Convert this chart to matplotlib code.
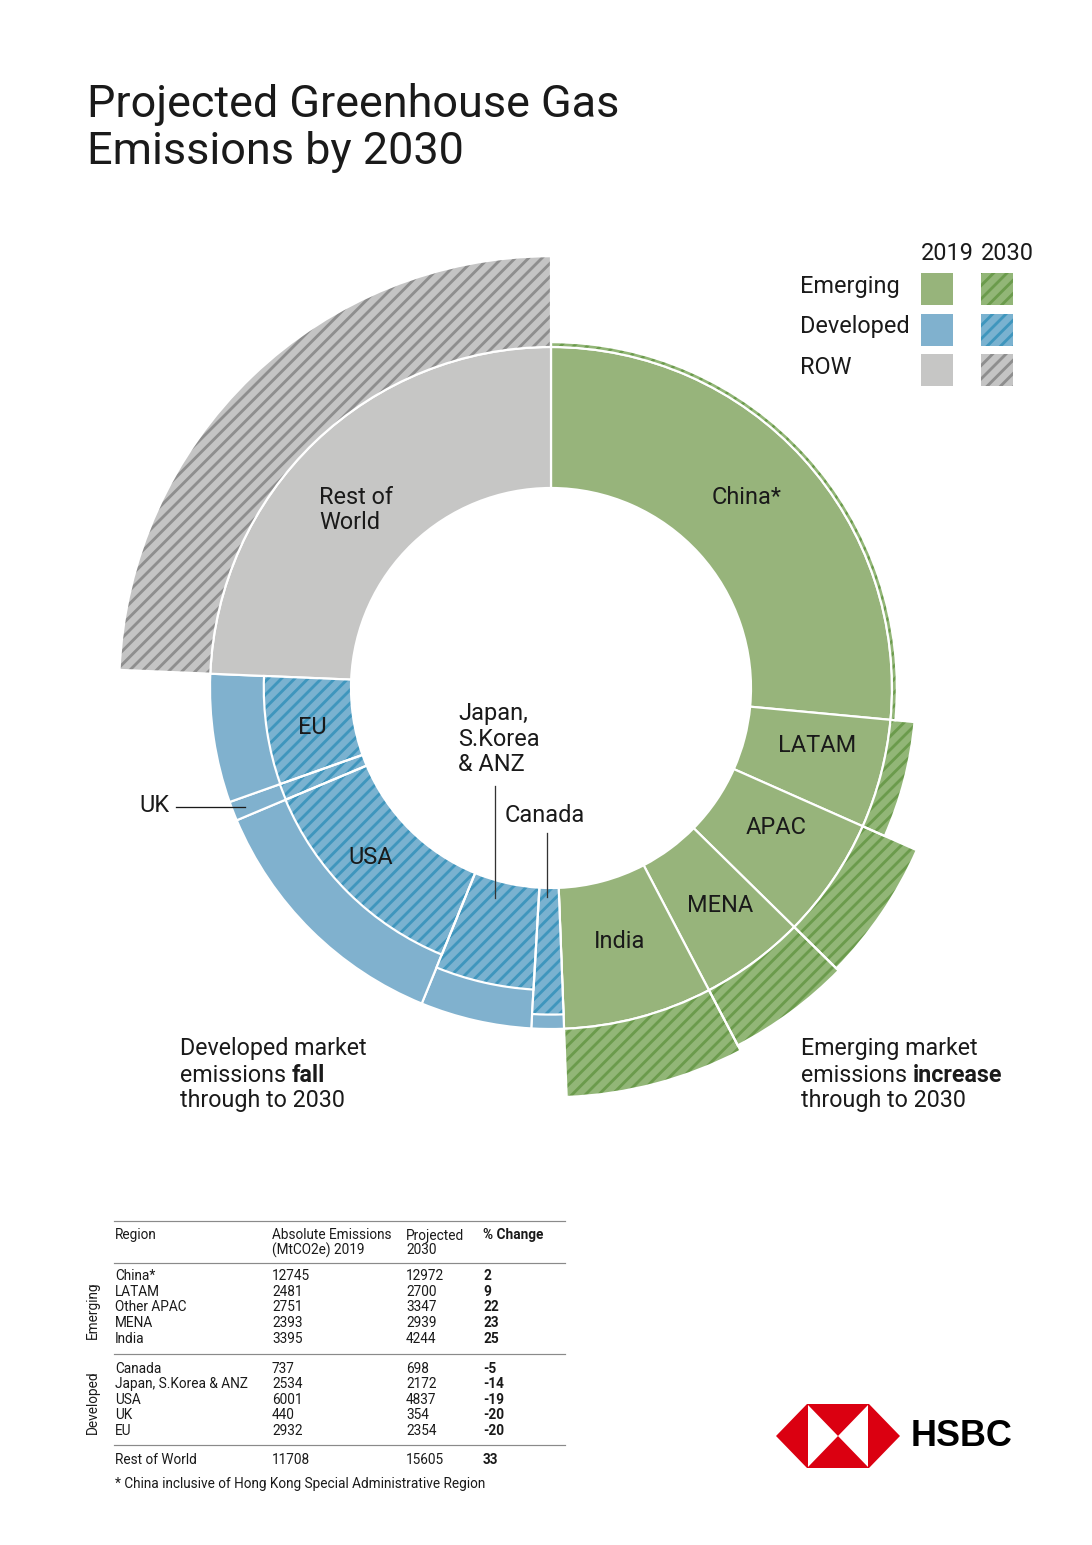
import matplotlib
matplotlib.use("Agg")
import matplotlib.pyplot as plt
from matplotlib.patches import Wedge, Polygon, Rectangle

# ---------------- data ----------------
regions = ["China*", "LATAM", "Other APAC", "MENA", "India",
           "Canada", "Japan, S.Korea & ANZ", "USA", "UK", "EU",
           "Rest of World"]
groups = ["Emerging"] * 5 + ["Developed"] * 5 + ["ROW"]
emissions_2019 = [12745, 2481, 2751, 2393, 3395, 737, 2534, 6001, 440, 2932, 11708]
emissions_2030 = [12972, 2700, 3347, 2939, 4244, 698, 2172, 4837, 354, 2354, 15605]
pct_change = [2, 9, 22, 23, 25, -5, -14, -19, -20, -20, 33]
legend_groups = ["Emerging", "Developed", "ROW"]
legend_years = ["2019", "2030"]

# ---------------- style ----------------
DPI = 120
W, H = 1092, 1545
FONT = ["Roboto", "DejaVu Sans"]
TXT = "#1a1a1a"
solid_col = {"Emerging": "#97b47b", "Developed": "#80b1ce", "ROW": "#c6c6c5"}
hatch_bg = {"Emerging": "#92b677", "Developed": "#7ab2d0", "ROW": "#c4c4c4"}
hatch_fg = {"Emerging": "#6b9b4c", "Developed": "#3f96bd", "ROW": "#8e8e8e"}

plt.rcParams["font.family"] = FONT
plt.rcParams["hatch.linewidth"] = 1.7

fig = plt.figure(figsize=(W / DPI, H / DPI), dpi=DPI)
ax = fig.add_axes([0, 0, 1, 1])
ax.set_xlim(0, W)
ax.set_ylim(0, H)
ax.axis("off")


def Y(py):
    return H - py


def PT(px):
    return px * 72.0 / DPI


# ---------------- donut ----------------
cx, cy = 551, Y(688)
R0, R1 = 200, 341
K = 0.8
total = sum(emissions_2019)
EW = PT(2.2)


def hatched_wedge(r_out, t1, t2, width, grp):
    ax.add_patch(Wedge((cx, cy), r_out, t1, t2, width=width,
                       facecolor=hatch_bg[grp], edgecolor="none", lw=0, zorder=3))
    ax.add_patch(Wedge((cx, cy), r_out, t1, t2, width=width,
                       facecolor="none", edgecolor=hatch_fg[grp], hatch="///",
                       lw=0, zorder=4))
    ax.add_patch(Wedge((cx, cy), r_out, t1, t2, width=width,
                       facecolor="none", edgecolor="white", lw=EW, zorder=5))


a = 0.0
for reg, grp, v19, v30 in zip(regions, groups, emissions_2019, emissions_2030):
    span = 360.0 * v19 / total
    t1, t2 = 90 - (a + span), 90 - a
    r30 = R1 * (1 + K * (v30 / v19 - 1))
    ax.add_patch(Wedge((cx, cy), R1, t1, t2, width=R1 - R0,
                       facecolor=solid_col[grp], edgecolor="white", lw=EW, zorder=2))
    if r30 >= R1:
        hatched_wedge(r30, t1, t2, r30 - R1, grp)
    else:
        hatched_wedge(r30, t1, t2, r30 - R0, grp)
    a += span

# region labels
LFS = PT(23.5)
lab = dict(fontsize=LFS, color=TXT, zorder=10)
ax.text(747, Y(497), "China*", ha="center", va="center", **lab)
ax.text(817, Y(745), "LATAM", ha="center", va="center", **lab)
ax.text(776, Y(828), "APAC", ha="center", va="center", **lab)
ax.text(720, Y(906), "MENA", ha="center", va="center", **lab)
ax.text(620, Y(941), "India", ha="center", va="center", **lab)
ax.text(312, Y(728), "EU", ha="center", va="center", **lab)
ax.text(371, Y(857), "USA", ha="center", va="center", **lab)
ax.text(319, Y(510), "Rest of\nWorld", ha="left", va="center", linespacing=1.12, **lab)
ax.text(458, Y(739), "Japan,\nS.Korea\n& ANZ", ha="left", va="center", linespacing=1.14, **lab)
ax.text(505, Y(816), "Canada", ha="left", va="center", **lab)
ax.text(139, Y(806), "UK", ha="left", va="center", **lab)
ax.plot([176, 245], [Y(807), Y(807)], color=TXT, lw=PT(1.3), zorder=10)
ax.plot([495, 495], [Y(786), Y(898)], color="#333333", lw=PT(1.3), zorder=10)
ax.plot([547, 547], [Y(833), Y(897)], color="#333333", lw=PT(1.3), zorder=10)

# ---------------- title ----------------
ax.text(87, Y(104), "Projected Greenhouse Gas", fontsize=PT(45), fontweight="normal",
        color=TXT, ha="left", va="center")
ax.text(87, Y(152), "Emissions by 2030", fontsize=PT(45), fontweight="normal",
        color=TXT, ha="left", va="center")

# ---------------- legend ----------------
ax.text(921, Y(254), legend_years[0], fontsize=LFS, color=TXT, ha="left", va="center")
ax.text(981, Y(254), legend_years[1], fontsize=LFS, color=TXT, ha="left", va="center")
row_y = [289, 330, 370]
for g, yy in zip(legend_groups, row_y):
    ax.text(800, Y(yy - 3), g, fontsize=LFS, color=TXT, ha="left", va="center")
    ax.add_patch(Rectangle((921, Y(yy + 16)), 32, 32, facecolor=solid_col[g],
                           edgecolor="none"))
    ax.add_patch(Rectangle((981, Y(yy + 16)), 32, 32, facecolor=hatch_bg[g],
                           edgecolor="none"))
    ax.add_patch(Rectangle((981, Y(yy + 16)), 32, 32, facecolor="none",
                           edgecolor=hatch_fg[g], hatch="///", lw=0))

# ---------------- annotations ----------------
renderer = fig.canvas.get_renderer()
AFS = PT(23.3)


def space_w():
    t1 = ax.text(0, 0, "aa", fontsize=AFS)
    t2 = ax.text(0, 0, "a a", fontsize=AFS)
    w = t2.get_window_extent(renderer).width - t1.get_window_extent(renderer).width
    t1.remove(); t2.remove()
    return w


sw = space_w()
for x0, word in [(180, "fall"), (801, "increase")]:
    kind = "Developed" if word == "fall" else "Emerging"
    ax.text(x0, Y(1049), f"{kind} market", fontsize=AFS, color=TXT, ha="left", va="center")
    t = ax.text(x0, Y(1075), "emissions", fontsize=AFS, color=TXT, ha="left", va="center")
    xb = x0 + t.get_window_extent(renderer).width + sw
    ax.text(xb, Y(1075), word, fontsize=AFS, color=TXT, ha="left", va="center",
            fontweight="bold")
    ax.text(x0, Y(1101), "through to 2030", fontsize=AFS, color=TXT, ha="left", va="center")

# ---------------- table ----------------
TFS = PT(13.6)
tt = dict(fontsize=TFS, color=TXT, va="center", ha="left")
rule = dict(color="#8a8a8a", lw=PT(1.2))
col_x = [115, 272, 406, 483]
ax.plot([114, 565], [Y(1221), Y(1221)], **rule)
ax.text(col_x[0], Y(1235), "Region", **tt)
ax.text(col_x[1], Y(1243), "Absolute Emissions\n(MtCO2e) 2019", linespacing=1.0, **tt)
ax.text(col_x[2], Y(1243), "Projected\n2030", linespacing=1.0, **tt)
ax.text(col_x[3], Y(1235), "% Change", fontweight="bold", **tt)
ax.plot([114, 565], [Y(1263), Y(1263)], **rule)

row_px = [1276, 1292, 1307, 1323, 1339, 1369, 1384, 1400, 1415, 1431, 1460]
for reg, v19, v30, p, yy in zip(regions, emissions_2019, emissions_2030, pct_change, row_px):
    ax.text(col_x[0], Y(yy), reg, **tt)
    ax.text(col_x[1], Y(yy), str(v19), **tt)
    ax.text(col_x[2], Y(yy), str(v30), **tt)
    ax.text(col_x[3], Y(yy), str(p), fontweight="bold", **tt)
ax.plot([114, 565], [Y(1354), Y(1354)], **rule)
ax.plot([114, 565], [Y(1445), Y(1445)], **rule)
ax.text(93, Y(1310), "Emerging", rotation=90, fontsize=TFS, color=TXT, ha="center", va="center")
ax.text(93, Y(1402), "Developed", rotation=90, fontsize=TFS, color=TXT, ha="center", va="center")
ax.text(115, Y(1484), "* China inclusive of Hong Kong Special Administrative Region", **tt)

# ---------------- HSBC logo ----------------
RED = "#db0011"
lx0, lx1, lx2, lx3 = 776, 807, 869, 900
ly_t, ly_m, ly_b = Y(1404), Y(1436), Y(1468)
ax.add_patch(Polygon([(lx0, ly_m), (lx1, ly_t), (lx2, ly_t), (lx3, ly_m), (lx2, ly_b), (lx1, ly_b)],
                     closed=True, facecolor=RED, edgecolor="none"))
mx = (lx1 + lx2) / 2
ax.add_patch(Polygon([(lx1 + 1, ly_t - 1), (mx, ly_m), (lx1 + 1, ly_b + 1)], closed=True,
                     facecolor="white", edgecolor="none"))
ax.add_patch(Polygon([(lx2 - 1, ly_t - 1), (mx, ly_m), (lx2 - 1, ly_b + 1)], closed=True,
                     facecolor="white", edgecolor="none"))
ax.text(911, Y(1436), "HSBC", fontsize=PT(36), fontweight="bold", color="black",
        ha="left", va="center", family=["Liberation Sans", "DejaVu Sans"])

fig.savefig("out.png", dpi=DPI, facecolor="white")
